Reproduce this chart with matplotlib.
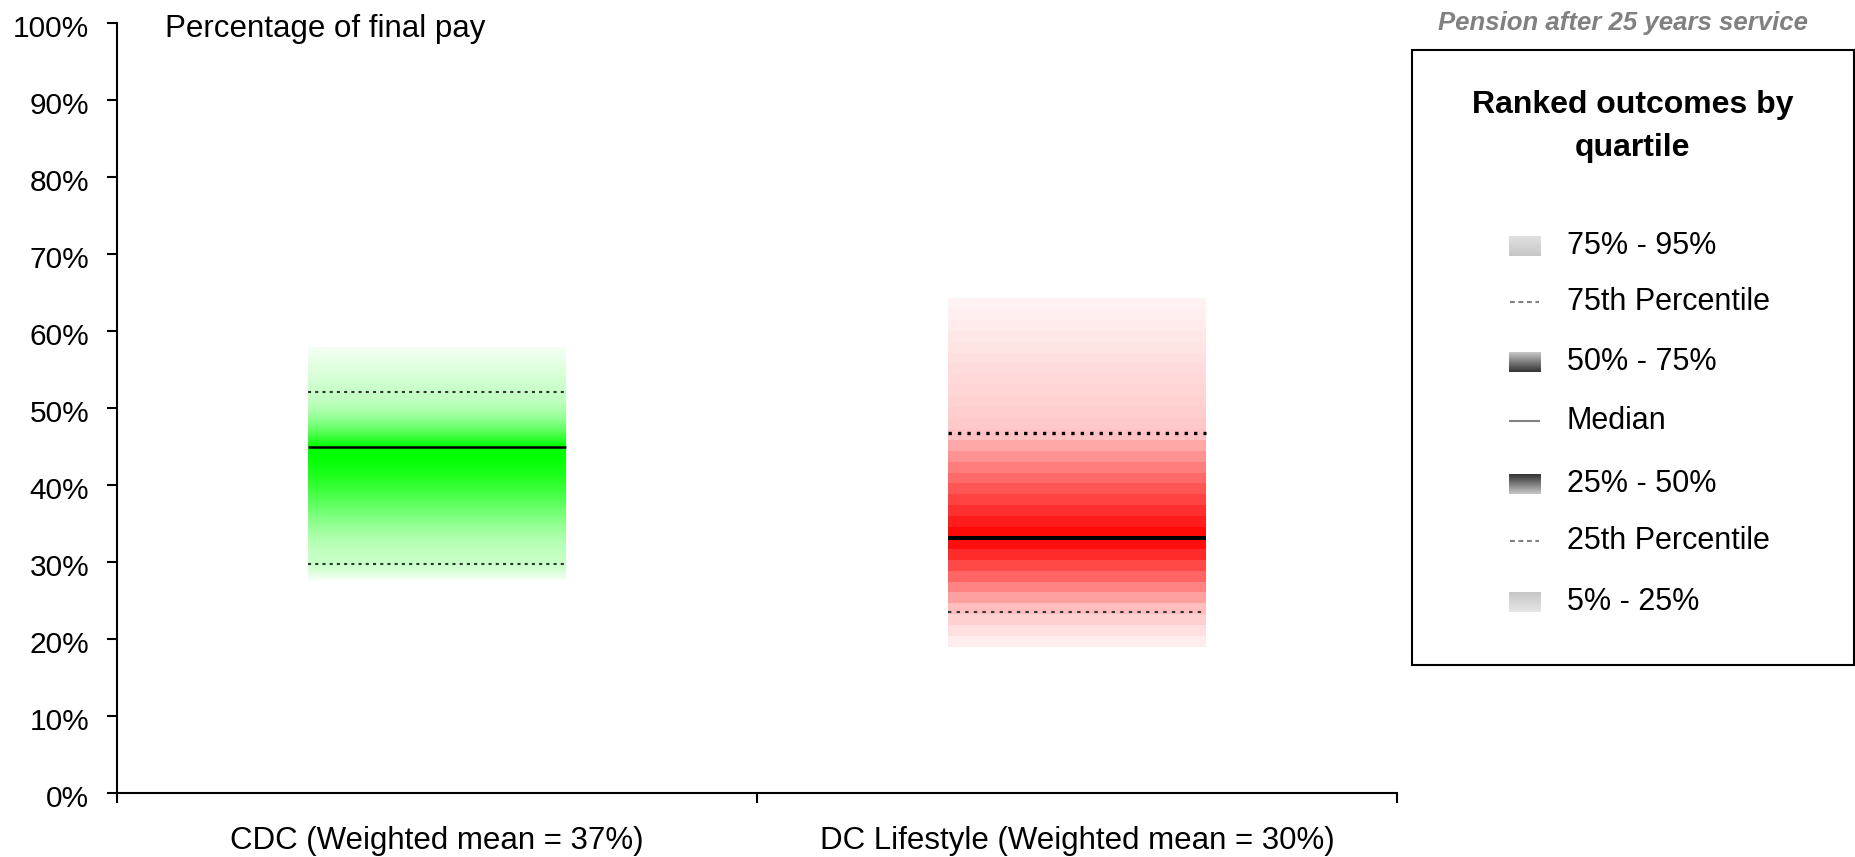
import matplotlib.pyplot as plt
import numpy as np
from matplotlib.patches import Rectangle
from matplotlib.transforms import ScaledTranslation

plt.rcParams["font.family"] = ["Liberation Sans", "DejaVu Sans"]
plt.rcParams["lines.scale_dashes"] = False

# Pension outcomes as a percentage of final pay, by percentile
schemes = ["CDC (Weighted mean = 37%)", "DC Lifestyle (Weighted mean = 30%)"]
p5 = [27.7, 19.0]
p25 = [29.7, 23.5]
p50 = [45.0, 33.1]
p75 = [52.1, 46.8]
p95 = [57.9, 64.2]

yticks = list(range(0, 101, 10))
legend_labels = ["75% - 95%", "75th Percentile", "50% - 75%", "Median",
                 "25% - 50%", "25th Percentile", "5% - 25%"]


def smooth(s):
    s = np.clip(s, 0, 1)
    return s * s * (3 - 2 * s)


def power(k):
    return lambda s: np.clip(s, 0, 1) ** k


# drawing styles for each scheme
base_colours = [np.array([0.0, 1.0, 0.0]), np.array([1.0, 0.0, 0.0])]
band_rows = [400, 32]          # red bar is drawn in coarse bands
fade_lower = [smooth, power(1.0)]
fade_upper = [power(1.8), power(0.9)]
median_lw = [1.8, 2.9]
q3_style = [dict(lw=1.5, dashes=(2.2, 3.0), color="#333333"),
            dict(lw=2.4, dashes=(2.4, 4.4), color="black")]
q1_style = [dict(lw=1.5, dashes=(2.2, 3.0), color="#333333"),
            dict(lw=1.5, dashes=(2.4, 3.8), color="#333333")]
bar_width = 0.403


def shade(v, lo, q1, med, q3, hi, f_lo, f_hi, t_edge=0.04, t_q=0.22):
    # colour strength: full at the median, pale at the quartiles, near white at the tails
    t = np.empty_like(v)
    m = v < q1
    t[m] = t_edge + (t_q - t_edge) * (v[m] - lo) / (q1 - lo)
    m = (v >= q1) & (v < med)
    t[m] = t_q + (1 - t_q) * f_lo((v[m] - q1) / (med - q1))
    m = (v >= med) & (v < q3)
    t[m] = t_q + (1 - t_q) * f_hi((q3 - v[m]) / (q3 - med))
    m = v >= q3
    t[m] = t_edge + (t_q - t_edge) * (hi - v[m]) / (hi - q3)
    return t


W, H = 1856, 857
fig = plt.figure(figsize=(W / 100, H / 100), dpi=100)
ax = fig.add_axes([117 / W, 1 - 793 / H, 1280 / W, 770 / H])

for i in range(len(schemes)):
    x0 = i + 0.5 - bar_width / 2
    x1 = i + 0.5 + bar_width / 2
    n = band_rows[i]
    edges = np.linspace(p5[i], p95[i], n + 1)
    mids = (edges[:-1] + edges[1:]) / 2
    t = shade(mids, p5[i], p25[i], p50[i], p75[i], p95[i],
              fade_lower[i], fade_upper[i])
    img = 1 - t[:, None] * (1 - base_colours[i][None, :])
    ax.imshow(img[:, None, :], extent=[x0, x1, p5[i], p95[i]], origin="lower",
              aspect="auto", interpolation="nearest" if n < 50 else "bilinear",
              zorder=1)
    ax.plot([x0, x1], [p75[i], p75[i]], zorder=3, **q3_style[i])
    ax.plot([x0, x1], [p25[i], p25[i]], zorder=3, **q1_style[i])
    ax.plot([x0, x1], [p50[i], p50[i]], color="black", lw=median_lw[i],
            solid_capstyle="butt", zorder=4)

ax.set_xlim(0, 2)
ax.set_ylim(0, 100)
ax.set_yticks(yticks)
ax.set_yticklabels([f"{v}%" for v in yticks])
ax.set_xticks([0, 1, 2])
ax.set_xticklabels([])
ax.set_xticks([0.5, 1.5], minor=True)
ax.set_xticklabels(schemes, minor=True)
ax.tick_params(axis="x", which="minor", length=0, pad=24, labelsize=22.5)
ax.tick_params(axis="both", which="major", direction="out", length=7,
               width=1.5, labelsize=21.5)
ax.tick_params(axis="y", pad=13)
# y labels sit a touch below their ticks
nudge = ScaledTranslation(0, -2.5 / 72, fig.dpi_scale_trans)
for lab in ax.get_yticklabels():
    lab.set_transform(lab.get_transform() + nudge)
for side in ["top", "right"]:
    ax.spines[side].set_visible(False)
for side in ["left", "bottom"]:
    ax.spines[side].set_linewidth(1.5)
ax.text(0.0375, 0.992, "Percentage of final pay", transform=ax.transAxes,
        fontsize=22.5, va="center", ha="left")

# overlay in pixel units for the heading and the legend box
lay = fig.add_axes([0, 0, 1, 1])
lay.axis("off")

lay.text(1808, 23, "Pension after 25 years service", ha="right", va="center",
         fontsize=18.5, fontweight="bold", fontstyle="italic", color="#808080")

lay.add_patch(Rectangle((1412, 50), 442, 615, fill=False, lw=1.5,
                        edgecolor="black"))
lay.text(1633, 105, "Ranked outcomes by", ha="center", va="center",
         fontsize=23, fontweight="bold")
lay.text(1633, 148, "quartile", ha="center", va="center",
         fontsize=23, fontweight="bold")

light, pale, dark = 0.90, 0.78, 0.2
grad = {
    "75% - 95%": (pale + 0.1, pale),
    "50% - 75%": (pale, dark),
    "25% - 50%": (dark, pale),
    "5% - 25%": (pale, light),
}
entry_y = [246, 302, 362, 421, 484, 541, 602]
for label, y in zip(legend_labels, entry_y):
    if label in grad:
        g0, g1 = grad[label]
        col = np.linspace(g0, g1, 40)
        lay.imshow(np.repeat(col[:, None], 3, axis=1)[:, None, :],
                   extent=[1509, 1541, y + 10, y - 10], origin="upper",
                   aspect="auto", interpolation="bilinear")
    elif label == "Median":
        lay.plot([1510, 1539], [y, y], color="#808080", lw=1.5)
    else:
        lay.plot([1510, 1539], [y, y], color="#808080", lw=1.5,
                 dashes=(3.5, 2.6))
    lay.text(1567, y, label, ha="left", va="center", fontsize=22)

lay.set_xlim(0, W)
lay.set_ylim(H, 0)

fig.savefig("out.png", dpi=100)
